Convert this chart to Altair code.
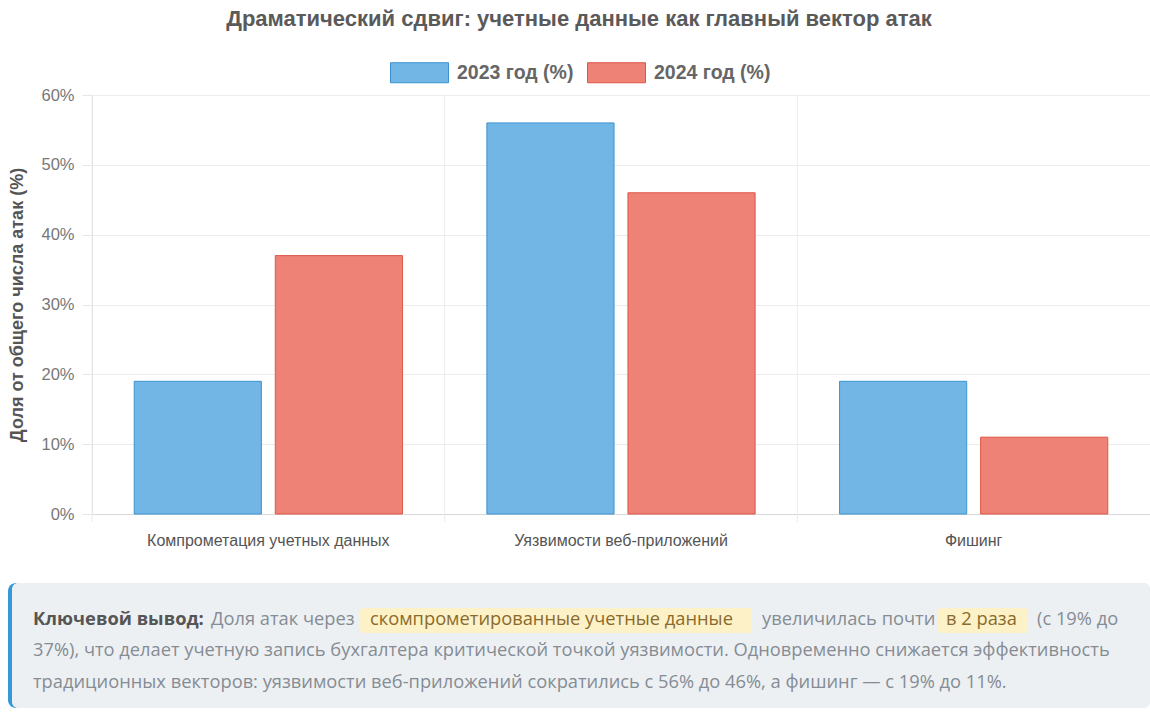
import altair as alt
import pandas as pd

# ---------------- data ----------------
categories = ["Компрометация учетных данных", "Уязвимости веб-приложений", "Фишинг"]
series_names = ["2023 год (%)", "2024 год (%)"]
values_2023 = [19, 56, 19]
values_2024 = [37, 46, 11]
y_ticks = [0, 10, 20, 30, 40, 50, 60]

title_text = "Драматический сдвиг: учетные данные как главный вектор атак"
y_title = "Доля от общего числа атак (%)"

note_label = "Ключевой вывод:"
note_l1_a = "Доля атак через"
note_hl_1 = "скомпрометированные учетные данные"
note_l1_b = "увеличилась почти"
note_hl_2 = "в 2 раза"
note_l1_c = "(с 19% до"
note_l2 = "37%), что делает учетную запись бухгалтера критической точкой уязвимости. Одновременно снижается эффективность"
note_l3 = "традиционных векторов: уязвимости веб-приложений сократились с 56% до 46%, а фишинг — с 19% до 11%."

# ---------------- styles ----------------
fills = ["#72b6e6", "#ee8276"]
strokes = ["#3a93d0", "#de5646"]
W, H = 1058, 419
CHART_FONT = "Liberation Sans"
NOTE_FONT = "Open Sans"
NOTE_SIZE = 18.3

df = pd.DataFrame({
    "category": categories * 2,
    "series": [series_names[0]] * len(categories) + [series_names[1]] * len(categories),
    "value": values_2023 + values_2024,
})
cat_df = pd.DataFrame({"category": categories})

x_scale = alt.Scale(domain=categories, paddingInner=0, paddingOuter=0)
x_axis = alt.Axis(title=None, labelAngle=0, grid=False, ticks=False, domain=True,
                  domainColor="#d9d9d9", labelFont=CHART_FONT, labelFontSize=16,
                  labelColor="#555555", labelPadding=18, labelLimit=0)

legend_cfg = alt.Legend(
    orient="none", legendX=298, legendY=-52, direction="horizontal", title=None,
    symbolType="M-1,-0.345L1,-0.345L1,0.345L-1,0.345Z", symbolSize=3364,
    symbolStrokeWidth=1, labelFont=CHART_FONT, labelFontSize=19.5,
    labelFontWeight="bold", labelColor="#666666", labelOffset=8, columnPadding=11,
    labelLimit=0,
)

bars = alt.Chart(df).mark_bar(strokeWidth=1).encode(
    x=alt.X("category:N", sort=categories, scale=x_scale, axis=x_axis),
    xOffset=alt.XOffset("series:N", sort=series_names,
                        scale=alt.Scale(domain=series_names, paddingInner=0.0986, paddingOuter=0.2993)),
    y=alt.Y("value:Q", scale=alt.Scale(domain=[0, 60], nice=False),
            axis=alt.Axis(values=y_ticks, labelExpr="datum.value + '%'", title=y_title,
                          grid=True, gridColor="#ececec", tickColor="#e6e6e6", tickSize=10,
                          domain=False, labelPadding=8, labelFont=CHART_FONT, labelFontSize=16.5,
                          labelColor="#777777", titleFont=CHART_FONT, titleFontSize=18,
                          titleFontWeight="bold", titleColor="#555555", titlePadding=14)),
    color=alt.Color("series:N", sort=series_names,
                    scale=alt.Scale(domain=series_names, range=fills), legend=legend_cfg),
    stroke=alt.Stroke("series:N", sort=series_names,
                      scale=alt.Scale(domain=series_names, range=strokes), legend=legend_cfg),
)

vgrid = alt.Chart(cat_df).mark_rule(color="#ececec", strokeWidth=1).encode(
    x=alt.X("category:N", sort=categories, scale=x_scale, axis=x_axis, bandPosition=0),
    y=alt.value(0),
    y2=alt.value(H + 8),
)

one = alt.Data(values=[{}])


def box(x1, x2, y1, y2, color, radius):
    return alt.Chart(one).mark_rect(color=color, cornerRadius=radius).encode(
        x=alt.value(x1), x2=alt.value(x2), y=alt.value(y1), y2=alt.value(y2))


def note(text, x, y, bold=False, color="#858c93"):
    return alt.Chart(one).mark_text(
        text=text, align="left", baseline="middle", font=NOTE_FONT, fontSize=NOTE_SIZE,
        fontWeight="bold" if bold else "normal", color=color,
    ).encode(x=alt.value(x), y=alt.value(y))


ox = 92  # plot origin in page px
oy = 95
L1, L2, L3 = 620 - oy, 651 - oy, 683 - oy

note_layers = [
    box(8 - ox, 1150 - ox, 583 - oy, 708 - oy, "#3498db", 8),
    box(12 - ox, 1150 - ox, 583 - oy, 708 - oy, "#edf0f3", 6),
    box(360 - ox, 752 - ox, 608 - oy, 633 - oy, "#fdf1c8", 3),
    box(938 - ox, 1028 - ox, 608 - oy, 633 - oy, "#fdf1c8", 3),
    note(note_label, 33 - ox, L1, bold=True, color="#555555"),
    note(note_l1_a, 211 - ox, L1),
    note(note_hl_1, 370 - ox, L1, color="#8a6a2a"),
    note(note_l1_b, 762 - ox, L1),
    note(note_hl_2, 946 - ox, L1, color="#8a6a2a"),
    note(note_l1_c, 1037 - ox, L1),
    note(note_l2, 33 - ox, L2),
    note(note_l3, 33 - ox, L3),
]

chart = alt.layer(vgrid, bars, *note_layers).properties(
    width=W, height=H,
    title=alt.TitleParams(title_text, font=CHART_FONT, fontSize=22, fontWeight="bold",
                          color="#5a5a5a", anchor="middle", frame="bounds", offset=12),
    padding={"left": 8, "top": 8, "right": 0, "bottom": 0},
).configure_view(stroke=None).configure(background="white")

chart.save("out.html", embed_options={"renderer": "svg", "actions": False})
